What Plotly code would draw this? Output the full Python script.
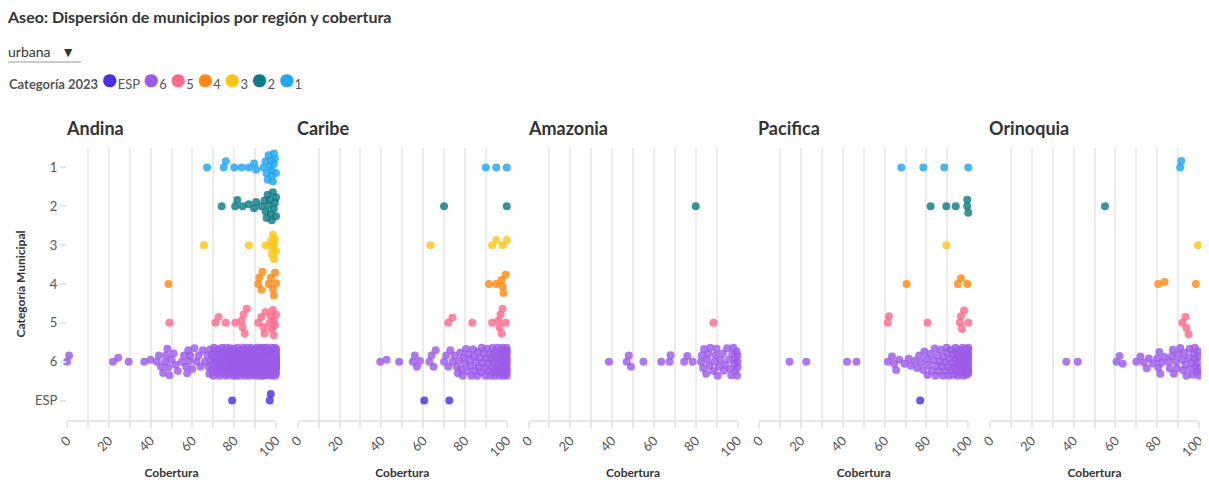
import math
import plotly.graph_objects as go

# ---------------- data ----------------
regions = ["Andina", "Caribe", "Amazonia", "Pacifica", "Orinoquia"]
categories = ["1", "2", "3", "4", "5", "6", "ESP"]
legend_order = ["ESP", "6", "5", "4", "3", "2", "1"]
colors = {"ESP": "#4a2ee5", "6": "#9c5be8", "5": "#ff6b8b", "4": "#ff8a12",
          "3": "#ffc414", "2": "#0f7b84", "1": "#22a6ee"}
x_ticks = [0, 10, 20, 30, 40, 50, 60, 70, 80, 90, 100]
x_labels = ["0", "", "20", "", "40", "", "60", "", "80", "", "100"]

# Andina
andina_1 = [67, 75, 76, 80, 83.5, 87, 89.5, 90.5, 94, 95, 95.5, 96, 96.5, 97, 97.5, 98, 98.5, 99, 99.5, 100, 99, 98]
andina_2 = [74, 80.5, 81.5, 84, 87, 89.5, 90.5, 93, 94.5, 95, 95.5, 96, 96.5, 97, 97.5, 98, 98.5, 99, 99.5, 100, 100]
andina_3 = [65.5, 87, 95, 97.5, 98, 98.5, 99, 99.5, 100, 99, 98]
andina_4 = [48.5, 91.5, 92, 93, 93.5, 96.5, 97.5, 98.5, 99, 99.5, 100]
andina_5 = [49, 71, 72.5, 76, 80.5, 83.5, 84, 85, 86, 84.5, 91.5, 93, 94, 95, 94.5, 97.5, 98, 98.5, 99, 99.5, 100, 99, 97]
andina_6 = [0, 1, 22, 24.5, 29.5, 37, 40, 43, 44, 45, 46, 47, 47.5, 48, 48.5, 49, 50, 51, 52, 53,
            55, 56, 57, 57.5, 58, 58.5, 59, 60, 61, 62, 63, 64, 65, 66,
            67.2, 67.8, 68.1, 68.4, 68.9, 69.3, 69.6, 70.0, 70.2, 70.7, 71.1, 71.4, 71.8, 72.0, 72.3, 72.9,
            73.1, 73.5, 73.8, 74.2, 74.4, 74.9, 75.1, 75.3, 75.8, 76.0, 76.4, 76.6, 77.0, 77.3, 77.5, 77.9,
            78.2, 78.4, 78.8, 79.0, 79.3, 79.5, 79.9, 80.1, 80.3, 80.6, 80.8, 81.0, 81.4, 81.6, 81.9, 82.1,
            82.3, 82.7, 82.9, 83.0, 83.4, 83.6, 83.8, 84.1, 84.3, 84.5, 84.9, 85.0, 85.2, 85.5, 85.7, 86.0,
            86.2, 86.4, 86.7, 86.9, 87.1, 87.3, 87.6, 87.8, 88.0, 88.2, 88.5, 88.7, 88.9, 89.1, 89.3, 89.6,
            89.8, 90.0, 90.1, 90.3, 90.5, 90.7, 90.9, 91.1, 91.3, 91.4, 91.6, 91.8, 92.0, 92.2, 92.3, 92.5,
            92.7, 92.9, 93.0, 93.2, 93.4, 93.6, 93.7, 93.9, 94.1, 94.2, 94.4, 94.6, 94.8, 94.9, 95.1, 95.3,
            95.4, 95.6, 95.8, 95.9, 96.1, 96.3, 96.4, 96.6, 96.8, 96.9, 97.1, 97.2, 97.4, 97.6, 97.7, 97.9,
            98.0, 98.2, 98.3, 98.5, 98.6, 98.8, 98.9, 99.0, 99.2, 99.3, 99.4, 99.5, 99.6, 99.7, 99.8, 99.9,
            100, 100, 100, 100, 100, 100, 100, 100, 100, 100, 100, 100, 100, 100,
            69.1, 71.6, 73.3, 75.6, 77.7, 79.7, 81.2, 83.2, 85.4, 87.4, 89.4, 91.2, 93.3, 95.2, 97.3, 99.1,
            70.4, 74.6, 78.6, 82.5, 86.6, 90.6, 94.3, 98.4, 99.6, 96.2, 92.8, 88.4, 84.7, 80.9, 76.8, 72.6]
andina_esp = [79, 97, 97.5]

# Caribe
caribe_1 = [90, 95, 100]
caribe_2 = [70, 100]
caribe_3 = [63.5, 93, 95, 98, 100]
caribe_4 = [91.5, 95, 97.5, 98.5, 99.5, 98]
caribe_5 = [72, 74, 83.5, 93, 96, 96.5, 97, 97.5, 98, 99.5]
caribe_6 = [39.5, 42.5, 48.5, 55, 56, 57, 58.5, 63, 64, 65, 66, 70, 71, 72, 73, 74, 75, 76,
            76.6, 77.2, 77.8, 78.3, 78.9, 79.4, 80.1, 80.5, 81.2, 81.7, 82.3, 82.6, 83.1, 83.8, 84.4, 84.7,
            85.3, 85.9, 86.2, 86.6, 87.1, 87.7, 88.0, 88.4, 88.9, 89.5, 89.8, 90.2, 90.6, 91.1, 91.3, 91.8,
            92.2, 92.5, 92.9, 93.3, 93.6, 94.0, 94.2, 94.7, 95.0, 95.3, 95.6, 96.0, 96.3, 96.5, 96.9, 97.2,
            97.5, 97.8, 98.0, 98.3, 98.6, 98.8, 99.1, 99.3, 99.5, 99.7, 99.9, 100, 100, 100, 100, 100, 100,
            93.8, 95.8, 97.0, 98.1, 99.0, 99.6, 100, 100]
caribe_esp = [60.5, 72.5]

# Amazonia
amazonia_1 = []
amazonia_2 = [80]
amazonia_3 = []
amazonia_4 = []
amazonia_5 = [88.5]
amazonia_6 = [38.5, 47, 48, 49, 55, 63.5, 67.5, 68, 74.5, 76, 78.5, 82.5, 83, 83.5, 84, 85, 85.5, 86,
              86.5, 87, 88.5, 89, 89.5, 90, 90.5, 91, 92, 93, 93.5, 94, 95, 96, 96.5, 97, 97.5, 98,
              98.5, 99, 99, 99.5, 100, 100, 100, 99.8]
amazonia_esp = []

# Pacifica
pacifica_1 = [68, 78.5, 88.5, 100]
pacifica_2 = [82, 89.5, 94, 99.5, 99.5, 100]
pacifica_3 = [89.5]
pacifica_4 = [70.5, 95, 96.5, 99.5]
pacifica_5 = [61.5, 62, 80.5, 96, 96.5, 97, 98, 100]
pacifica_6 = [14.5, 22.5, 42, 46.5, 61.5, 63.5, 64.5, 65.5, 67, 69.5, 71.5, 72.5, 74.5, 75.5, 76.5,
              77.5, 78.5, 79, 80, 80.5, 81, 82, 82.6, 83.2, 83.9, 84.3, 84.8, 85.4, 85.9, 86.3, 86.8,
              87.4, 87.9, 88.2, 88.7, 89.1, 89.6, 90.0, 90.4, 90.7, 91.1, 91.5, 91.8, 92.2, 92.5, 92.9,
              93.2, 93.6, 93.9, 94.2, 94.5, 94.9, 95.2, 95.5, 95.8, 96.1, 96.4, 96.7, 97.0, 97.3, 97.6,
              97.9, 98.2, 98.4, 98.7, 99.0, 99.2, 99.5, 99.7, 99.9, 100, 100, 100, 100, 100, 100,
              94.0, 95.0, 96.0, 97.0, 98.0, 99.0, 100, 100]
pacifica_esp = [77]

# Orinoquia
orinoquia_1 = [91, 91.5]
orinoquia_2 = [55]
orinoquia_3 = [99.5]
orinoquia_4 = [80.5, 83.5, 98.5]
orinoquia_5 = [92, 93.5, 94, 95]
orinoquia_6 = [36.5, 42, 60.5, 62, 63.5, 70, 72, 73.5, 75, 76, 78, 80, 80.5, 81, 81.5, 82, 83.5, 85.5,
               86, 87, 87.5, 88, 89, 89.5, 90, 91, 92, 92.5, 93, 93.5, 94, 95, 95.5, 96, 96.5, 97,
               97.5, 98, 98, 98.5, 99, 99, 99.5, 100, 100, 100]
orinoquia_esp = []

data = {
    "Andina": [andina_1, andina_2, andina_3, andina_4, andina_5, andina_6, andina_esp],
    "Caribe": [caribe_1, caribe_2, caribe_3, caribe_4, caribe_5, caribe_6, caribe_esp],
    "Amazonia": [amazonia_1, amazonia_2, amazonia_3, amazonia_4, amazonia_5, amazonia_6, amazonia_esp],
    "Pacifica": [pacifica_1, pacifica_2, pacifica_3, pacifica_4, pacifica_5, pacifica_6, pacifica_esp],
    "Orinoquia": [orinoquia_1, orinoquia_2, orinoquia_3, orinoquia_4, orinoquia_5, orinoquia_6, orinoquia_esp],
}

# ---------------- layout constants (page pixels) ----------------
OFF = 8                      # page body margin
W, H = 1209 - OFF, 480 - OFF  # figure size
P_LEFT, P_W, P_STEP = 67, 209, 230.75
P_TOP, P_BOT = 148, 420
BAND = (P_BOT - P_TOP) / len(categories)
PX_PER_UNIT = P_W / 100.0
DIAM = 6.6
MAXOFF = 14.0
FONT = "Lato"


def xp(px):
    return (px - OFF) / W


def yp(py):
    return 1 - (py - OFF) / H


def swarm(xs):
    """Deterministic beeswarm offsets (pixels) for one band."""
    order = sorted(range(len(xs)), key=lambda i: (xs[i], i))
    placed = []
    offs = [0.0] * len(xs)
    d2 = DIAM * DIAM
    tol = 0.05
    for i in order:
        xpix = xs[i] * PX_PER_UNIT
        near = [(px, py) for px, py in placed if abs(px - xpix) < DIAM]
        cands = [0.0]
        for px, py in near:
            h = math.sqrt(max(d2 - (px - xpix) ** 2, 0))
            cands += [py + h, py - h]
        cands = sorted({c for c in cands if abs(c) <= MAXOFF}, key=lambda c: (abs(c), c))
        best = None
        for c in cands:
            if all((px - xpix) ** 2 + (py - c) ** 2 >= d2 - tol for px, py in near):
                best = c
                break
        if best is None:
            grid = [k * 0.5 for k in range(-int(MAXOFF * 2), int(MAXOFF * 2) + 1)]
            best = max(grid, key=lambda c: (min((px - xpix) ** 2 + (py - c) ** 2 for px, py in near), -abs(c)))
        placed.append((xpix, best))
        offs[i] = best
    return offs


fig = go.Figure()
for r_i, region in enumerate(regions):
    ax = "" if r_i == 0 else str(r_i + 1)
    for cat in legend_order:
        c_i = categories.index(cat)
        xs = data[region][c_i]
        offs = swarm(xs)
        ys = [c_i + o / BAND for o in offs]
        fig.add_trace(go.Scatter(
            x=xs, y=ys, mode="markers", name=cat, legendgroup=cat,
            showlegend=False, cliponaxis=False,
            marker=dict(size=8, color=colors[cat], opacity=0.82, line=dict(width=0)),
            xaxis="x" + ax, yaxis="y" + ax,
            hovertemplate=region + "<br>Categoría " + cat + "<br>Cobertura %{x}<extra></extra>",
        ))

legend_text = "<b>Categoría 2023</b> " + "".join(
    "<span style='color:%s;font-size:27px'>●</span>%s " % (colors[c], c) for c in legend_order)

layout = dict(
    width=W, height=H, margin=dict(l=0, r=0, t=0, b=0, autoexpand=False),
    paper_bgcolor="white", plot_bgcolor="white",
    font=dict(family=FONT, size=13, color="#555"),
    title=dict(text="<b>Aseo: Dispersión de municipios por región y cobertura</b>",
               x=xp(8), xanchor="left", y=yp(17), yanchor="middle",
               font=dict(size=16, color="#333", family=FONT)),
    showlegend=False,
    updatemenus=[dict(type="dropdown", buttons=[dict(label="urbana", method="skip", args=[None])],
                      x=xp(-4), xanchor="left", y=yp(37), yanchor="top",
                      bgcolor="rgba(0,0,0,0)", bordercolor="rgba(0,0,0,0)", borderwidth=0,
                      font=dict(size=14, color="#333", family=FONT), showactive=False, pad=dict(l=0, t=0))],
    shapes=[dict(type="line", xref="paper", yref="paper", x0=xp(7), x1=xp(81),
                 y0=yp(62), y1=yp(62), line=dict(color="#999", width=1))],
    annotations=[dict(text=legend_text, xref="paper", yref="paper", x=xp(7), xanchor="left",
                      y=yp(78), yanchor="middle", showarrow=False,
                      font=dict(size=13, color="#555", family=FONT))],
)

for r_i, region in enumerate(regions):
    ax = "" if r_i == 0 else str(r_i + 1)
    x0 = P_LEFT + r_i * P_STEP
    layout["xaxis" + ax] = dict(
        domain=[xp(x0), xp(x0 + P_W)], range=[0, 100], anchor="y" + ax,
        tickvals=x_ticks, ticktext=x_labels, tickangle=-45, showgrid=True,
        gridcolor="#ececec", gridwidth=2, zeroline=False, showline=True,
        linecolor="#e6e6e6", linewidth=2, ticks="outside", ticklen=6, tickwidth=2,
        tickcolor="#e6e6e6", tickfont=dict(size=13, color="#555"), automargin=False,
        title=dict(text="<b>Cobertura</b>", font=dict(size=12, color="#333"), standoff=14),
    )
    layout["yaxis" + ax] = dict(
        domain=[yp(P_BOT), yp(P_TOP)], range=[len(categories) - 0.5, -0.5],
        anchor="x" + ax, tickvals=list(range(len(categories))), ticktext=categories,
        showgrid=False, zeroline=False, showline=False, automargin=False,
        ticks="outside" if r_i == 0 else "", ticklen=6, tickwidth=2, tickcolor="#e6e6e6",
        showticklabels=(r_i == 0), tickfont=dict(size=13, color="#555"),
    )
    if r_i == 0:
        layout["yaxis"]["title"] = dict(text="<b>Categoría Municipal</b>",
                                        font=dict(size=12, color="#333"), standoff=6)
    else:
        layout["yaxis" + ax]["matches"] = "y"
    layout["annotations"].append(dict(
        text="<b>" + region + "</b>", xref="x" + ax + " domain", yref="paper",
        x=0, xanchor="left", xshift=-3, y=yp(128), yanchor="middle", showarrow=False,
        font=dict(size=18, color="#333", family=FONT)))

fig.update_layout(**layout)
fig.write_html("out.html")
